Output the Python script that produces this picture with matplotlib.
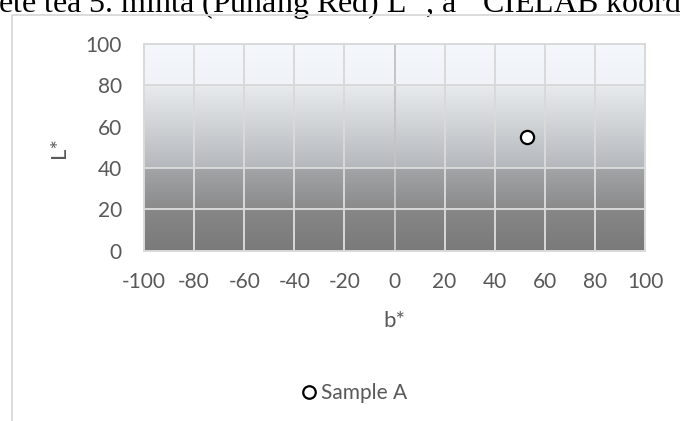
import matplotlib
matplotlib.use('Agg')
import matplotlib.pyplot as plt
import numpy as np
from matplotlib.colors import to_rgb
from matplotlib.lines import Line2D

# data
sample_names = ['Sample A']
b_values = [53]
l_values = [55]
x_ticks = [-100, -80, -60, -40, -20, 0, 20, 40, 60, 80, 100]
y_ticks = [0, 20, 40, 60, 80, 100]
h_grid = [20, 40, 80]
caption = 'Fekete tea 5. minta (Puhang Red) L$^*$, a$^*$ CIELAB koordinátái'

plt.rcParams['font.family'] = ['Lato', 'DejaVu Sans']
plt.rcParams['axes.unicode_minus'] = False
plt.rcParams['mathtext.fontset'] = 'custom'
plt.rcParams['mathtext.rm'] = 'Liberation Serif'
plt.rcParams['mathtext.it'] = 'Liberation Serif'

text_col = '#595959'
grid_col = '#d9d9d9'

fig = plt.figure(figsize=(6.8, 4.21), dpi=100)
fig.patch.set_facecolor('white')

# caption of the document, cut off at the top
fig.text(-50 / 680, 1 - 12.5 / 421, caption, family=['Liberation Serif'],
         fontsize=23, color='black', ha='left', va='baseline')

# chart frame (only top and left edges visible)
fig.add_artist(Line2D([11.7 / 680, 11.7 / 680, 1.01], [-0.01, 1 - 14.5 / 421, 1 - 14.5 / 421],
                      color=grid_col, lw=1.3, transform=fig.transFigure, zorder=5))

ax = fig.add_axes([144 / 680, 1 - 250.7 / 421, (645 - 144) / 680, (250.7 - 44) / 421])

# gradient fill of the plot area
stops = [(0, '#7a7a7a'), (20, '#878787'), (20.01, '#8a8a8a'), (40, '#a2a5a7'),
         (40.01, '#b4b8bc'), (80, '#e8ebee'), (80.01, '#eff2f6'), (100, '#f4f7fb')]
ys = np.linspace(0, 100, 400)
pos = [s[0] for s in stops]
cols = np.array([to_rgb(s[1]) for s in stops])
grad = np.stack([np.interp(ys, pos, cols[:, k]) for k in range(3)], axis=-1)
ax.imshow(grad[::-1, None, :], extent=[-100, 100, 0, 100], aspect='auto', zorder=0)

for x in x_ticks[1:-1]:
    ax.axvline(x, color='#c4c4c4' if x == 0 else grid_col, lw=1.4, zorder=1)
for y in h_grid:
    ax.axhline(y, color=grid_col, lw=1.4, zorder=1)

ax.plot(b_values, l_values, linestyle='none', marker='o', markersize=9.5,
        markerfacecolor='white', markeredgecolor='black', markeredgewidth=1.6,
        label=sample_names[0], zorder=3)

ax.set_xlim(-100, 100)
ax.set_ylim(0, 100)
ax.set_xticks(x_ticks)
ax.set_yticks(y_ticks)
ax.tick_params(length=0, labelsize=15, labelcolor=text_col)
ax.tick_params(axis='x', pad=15)
ax.tick_params(axis='y', pad=16)
for s in ax.spines.values():
    s.set_color(grid_col)
    s.set_linewidth(1.4)

ax.set_xlabel('b*', fontsize=16, color=text_col, labelpad=14)
ax.set_ylabel('L*', fontsize=16, color=text_col, labelpad=12)

leg = fig.legend(loc='center', bbox_to_anchor=(353 / 680, 1 - 393 / 421), frameon=False,
                 fontsize=15, handletextpad=0.05, handlelength=1.0, markerscale=0.95)
for t in leg.get_texts():
    t.set_color(text_col)

fig.savefig('out.png', dpi=100)
